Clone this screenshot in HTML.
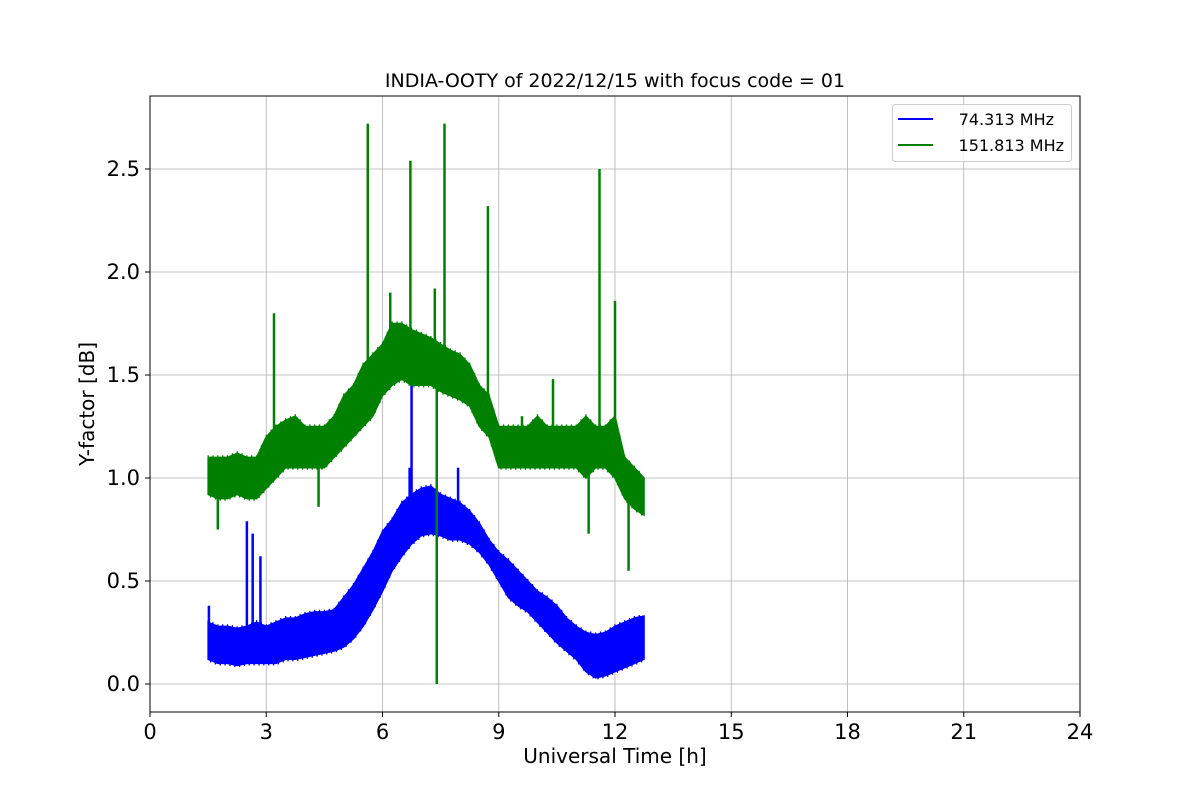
<!DOCTYPE html>
<html><head><meta charset="utf-8"><style>
body{margin:0;background:#fff;}
svg{display:block;font-family:"DejaVu Sans","Liberation Sans",sans-serif;}
</style></head><body>
<svg id="chart" width="1200" height="800" viewBox="0 0 1200 800">
<rect width="1200" height="800" fill="#fff"/>
<g id="grid"></g>
<g id="series"></g>
<rect x="150" y="96" width="930" height="616" fill="none" stroke="#000" stroke-width="1"/>
<g id="ticks"></g>
<text x="615" y="87" font-size="19" text-anchor="middle">INDIA-OOTY of 2022/12/15 with focus code = 01</text>
<text x="615" y="763" font-size="20" text-anchor="middle">Universal Time [h]</text>
<text x="94" y="404" font-size="20" text-anchor="middle" transform="rotate(-90 94 404)">Y-factor [dB]</text>
<g>
<rect x="892.5" y="104.5" width="179" height="57" rx="3" fill="#fff" fill-opacity="0.8" stroke="#ccc"/>
<g>
<line x1="898" y1="119" x2="933" y2="119" stroke="#0000ff" stroke-width="2"/>
<text x="1054" y="125" font-size="16" text-anchor="end">74.313 MHz</text></g>
<g>
<line x1="898" y1="145" x2="933" y2="145" stroke="#008000" stroke-width="2"/>
<text x="1064" y="151" font-size="16" text-anchor="end">151.813 MHz</text></g>
</g>
</svg>
<script>
const xTicks=[0,3,6,9,12,15,18,21,24];
const yTicks=[0.0,0.5,1.0,1.5,2.0,2.5];
const tStart=1.5, tStep=0.25;
const blueLo=[0.12,0.1,0.1,0.09,0.1,0.1,0.1,0.1,0.12,0.12,0.13,0.14,0.15,0.16,0.18,0.22,0.28,0.36,0.45,0.55,0.62,0.68,0.72,0.73,0.72,0.7,0.7,0.68,0.64,0.58,0.5,0.42,0.38,0.35,0.3,0.25,0.2,0.16,0.12,0.06,0.03,0.04,0.06,0.08,0.1,0.12];
const blueHi=[0.3,0.28,0.28,0.27,0.28,0.3,0.28,0.3,0.32,0.32,0.34,0.35,0.35,0.36,0.42,0.48,0.56,0.64,0.74,0.8,0.88,0.92,0.95,0.96,0.92,0.9,0.88,0.84,0.78,0.7,0.64,0.6,0.55,0.5,0.45,0.42,0.38,0.32,0.28,0.25,0.24,0.25,0.28,0.3,0.32,0.33];
const blueSpikes=[[1.52,0.38],[2.5,0.79],[2.65,0.73],[2.85,0.62],[6.75,1.5],[6.7,1.05],[7.95,1.05]];
const greenLo=[0.92,0.9,0.9,0.92,0.9,0.9,0.95,1.0,1.05,1.05,1.05,1.05,1.05,1.1,1.15,1.2,1.25,1.3,1.4,1.45,1.48,1.45,1.45,1.45,1.42,1.4,1.38,1.35,1.25,1.2,1.05,1.05,1.05,1.05,1.05,1.05,1.05,1.05,1.05,1.0,1.05,1.05,1.0,0.9,0.85,0.82];
const greenHi=[1.1,1.1,1.1,1.12,1.1,1.1,1.2,1.25,1.28,1.3,1.25,1.25,1.25,1.3,1.4,1.45,1.55,1.6,1.65,1.75,1.75,1.72,1.7,1.68,1.65,1.62,1.6,1.55,1.45,1.4,1.25,1.25,1.25,1.25,1.3,1.25,1.25,1.25,1.25,1.3,1.25,1.25,1.3,1.1,1.05,1.0];
const greenSpikes=[[5.62,2.72],[6.72,2.54],[7.6,2.72],[8.72,2.32],[11.6,2.5],[3.2,1.8],[12.0,1.86],[7.35,1.92],[6.2,1.9],[11.32,0.73],[12.35,0.55],[7.4,0.0],[1.75,0.75],[4.35,0.86],[9.6,1.3],[10.4,1.48]];
const X=t=>150+t*930/24;
const Y=v=>684-v*206;
const NS="http://www.w3.org/2000/svg";
function mk(tag,attrs,parent){const e=document.createElementNS(NS,tag);for(const k in attrs)e.setAttribute(k,attrs[k]);parent.appendChild(e);return e;}
const grid=document.getElementById('grid'),ticks=document.getElementById('ticks'),ser=document.getElementById('series');
xTicks.forEach(t=>{
 const l=mk('line',{x1:X(t),x2:X(t),y1:96,y2:712,stroke:'#b0b0b0','stroke-width':0.8},grid);
 
 
 mk('line',{x1:X(t),x2:X(t),y1:712,y2:717,stroke:'#000'},ticks);
 const tx=mk('text',{x:X(t),y:739,'font-size':21,'text-anchor':'middle'},ticks);
 tx.textContent=t;
 
 
});
yTicks.forEach(v=>{
 const l=mk('line',{x1:150,x2:1080,y1:Y(v),y2:Y(v),stroke:'#b0b0b0','stroke-width':0.8},grid);
 
 
 mk('line',{x1:145,x2:150,y1:Y(v),y2:Y(v),stroke:'#000'},ticks);
 const tx=mk('text',{x:140,y:Y(v)+7,'font-size':21,'text-anchor':'end'},ticks);
 tx.textContent=v.toFixed(1);
 
 
});
function drawSeries(lo,hi,spikes,color,name){
 const g=mk('g',{},ser);
 
 
 let pts=[];
 lo.forEach((v,i)=>pts.push(X(tStart+i*tStep)+','+Y(v)));
 for(let i=hi.length-1;i>=0;i--)pts.push(X(tStart+i*tStep)+','+Y(hi[i]));
 mk('polygon',{points:pts.join(' '),fill:color,stroke:color,'stroke-width':1.5},g);
 let z=[];
 for(let i=0;i<lo.length-1;i++){
  for(let k=0;k<4;k++){
   const f=k/4,t=tStart+(i+f)*tStep;
   const l=lo[i]+(lo[i+1]-lo[i])*f,h=hi[i]+(hi[i+1]-hi[i])*f;
   z.push(X(t)+','+Y(k%2?l-0.01:h+0.01));
  }
 }
 mk('polyline',{points:z.join(' '),fill:'none',stroke:color,'stroke-width':1.2},g);
 spikes.forEach(s=>{
  const i=Math.min(lo.length-1,Math.max(0,Math.round((s[0]-tStart)/tStep)));
  const m=(lo[i]+hi[i])/2;
  const sp=mk('line',{x1:X(s[0]),x2:X(s[0]),y1:Y(m),y2:Y(s[1]),stroke:color,'stroke-width':2.5},g);
  
  
 });
}
drawSeries(blueLo,blueHi,blueSpikes,'#0000ff','series-74mhz');
drawSeries(greenLo,greenHi,greenSpikes,'#008000','series-151mhz');
</script>
</body></html>
